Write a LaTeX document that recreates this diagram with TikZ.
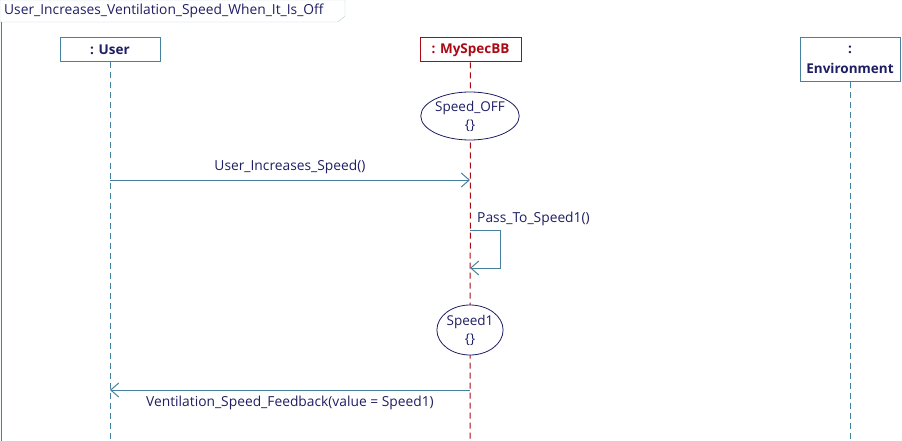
\documentclass[tikz,border=0pt]{standalone}
\usepackage{fontspec}
\setmainfont{Open Sans}
\usepackage{tikz}
\usetikzlibrary{arrows.meta, positioning, shapes.geometric}
\definecolor{lineblue}{RGB}{70,130,160}
\definecolor{navy}{RGB}{30,30,100}
\definecolor{darkred}{RGB}{170,10,20}
\tikzset{
  lifeline/.style={draw=lineblue, line width=1pt, minimum width=100pt, minimum height=24pt, text=navy, font=\bfseries\fontsize{13.5}{20}\selectfont, align=center, fill=white, inner sep=1pt},
  life/.style={lineblue, line width=1pt, dash pattern=on 6pt off 4pt},
  msg/.style={lineblue, line width=1pt, -{Straight Barb[length=8pt,width=14pt]}},
  state/.style={draw=navy, line width=0.8pt, ellipse, fill=white, text=navy, align=center, font=\fontsize{13.5}{18}\selectfont, inner sep=0pt},
  lbl/.style={text=navy, font=\fontsize{13.8}{15}\selectfont}
}
\begin{document}
\begin{tikzpicture}[x=1pt,y=-1pt]
  \useasboundingbox (0,0) rectangle (902,441);
  % frame
  \draw[lineblue!40] (0,441) -- (0,0) -- (345,0) -- (345,16) -- (338,22) -- (0,22);
  \draw[lineblue, line width=1pt] (1,22) -- (1,441);
  \node[lbl, anchor=west, inner sep=0pt] (title) at (4,11) {User\_Increases\_Ventilation\_Speed\_When\_It\_Is\_Off};

  % lifelines
  \node[lifeline] (user) at (110,50) {: User};
  \node[lifeline, draw=darkred, text=darkred, minimum width=101pt] (bb) at (470.5,50) {: MySpecBB};
  \node[lifeline, minimum height=44pt] (env) at (850,60) {:\\Environment};
  \coordinate (userend) at (110,441);
  \coordinate (bbend) at (470,441);
  \coordinate (envend) at (850,441);
  \draw[life] (user) -- (userend);
  \draw[life, darkred] (bb) -- (bbend);
  \draw[life] (env) -- (envend);

  % states
  \node[state, minimum width=90pt, minimum height=48pt] (off) at (470,116) {Speed\_OFF\\\{\}};
  \node[state, minimum width=64pt, minimum height=50pt] (s1) at (470,330) {Speed1\\\{\}};

  % messages
  \coordinate (m1a) at (110,180);
  \coordinate (m1b) at (470,180);
  \draw[msg] (m1a) -- node[lbl, above=2pt] {User\_Increases\_Speed()} (m1b);

  \coordinate (sa) at (470,230);
  \coordinate (sb) at (470,268);
  \draw[msg] (sa) -- ++(30,0) |- (sb);
  \node[lbl, anchor=west, inner sep=0pt] (passlbl) at (477,219) {Pass\_To\_Speed1()};

  \coordinate (m2a) at (470,390);
  \coordinate (m2b) at (110,390);
  \draw[msg] (m2a) -- node[lbl, below=2pt] {Ventilation\_Speed\_Feedback(value = Speed1)} (m2b);
\end{tikzpicture}
\end{document}
